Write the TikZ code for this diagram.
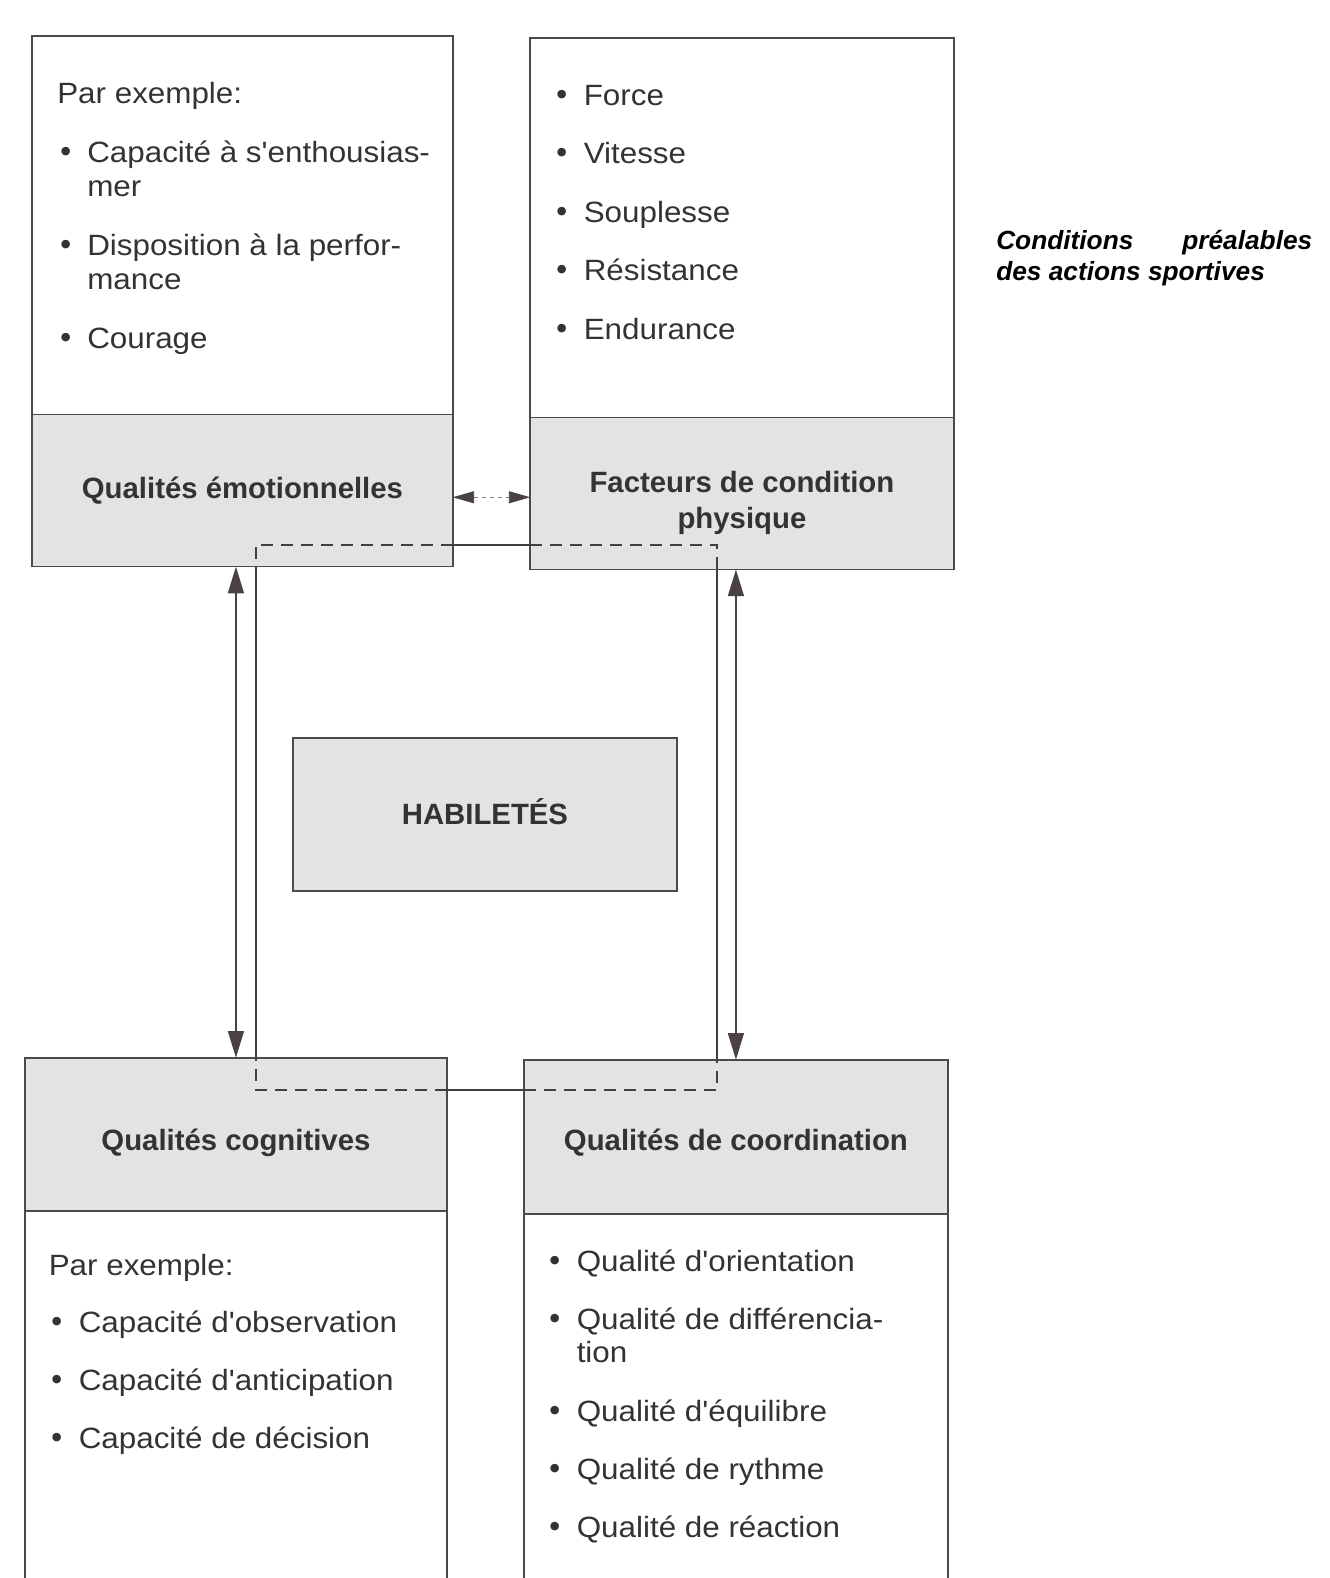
\documentclass[tikz,border=0pt]{standalone}
\usepackage{fontspec}
\setmainfont{Liberation Sans}
\newfontfamily\bodyfont{Liberation Sans}[FakeStretch=1.07]
\newfontfamily\dotfont{DejaVu Sans}
\usepackage{tikz}
\usetikzlibrary{arrows.meta, positioning, calc}

\definecolor{inkgrey}{HTML}{333333}
\definecolor{bandgrey}{HTML}{E3E3E3}
\definecolor{framegrey}{HTML}{4A4A4A}
\definecolor{tipgrey}{HTML}{4A4242}

\newcommand{\bul}{{\dotfont\textbullet}}
\newcommand{\itemgap}{18.8pt}

\begin{document}
\begin{tikzpicture}[x=0.75pt, y=-0.75pt, node distance=0pt, >={Triangle[length=20pt, width=12pt]},
    panel/.style = {draw=framegrey, line width=1.3pt, fill=white, rectangle, inner sep=0pt, outer sep=0pt, anchor=north west},
    band/.style = {panel, fill=bandgrey},
    title/.style = {inner sep=0pt, text=inkgrey, align=center, font=\bfseries\fontsize{22}{27}\selectfont},
    listtext/.style = {anchor=base west, inner sep=0pt, text=inkgrey, font=\bodyfont\fontsize{22}{25}\selectfont},
    linkline/.style = {draw=black!75, line width=1.5pt},
    linkdash/.style = {linkline, dash pattern=on 9pt off 6pt},
    bothtips/.style = {draw=tipgrey, line width=1.1pt, <->, fill=tipgrey}]
    \clip (0,0) rectangle (1329,1578);

    % Top boxes
    \node [panel, minimum width=315.4pt, minimum height=283.8pt] (emoTop) at (32.2,36.2) {};
    \node [band, below=0pt of emoTop, minimum width=315.4pt, minimum height=114pt] (emoBand) {};
    \node [panel, minimum width=317.6pt, minimum height=284.5pt] (physTop) at (530.2,38.2) {};
    \node [band, below=0pt of physTop, minimum width=317.6pt, minimum height=114pt] (physBand) {};

    % Centre
    \node [band, minimum width=288.2pt, minimum height=114.7pt] (habil) at (292.8,737.7) {};

    % Bottom boxes
    \node [band, minimum width=316.1pt, minimum height=114.8pt] (cogBand) at (25.2,1057.7) {};
    \node [panel, below=0pt of cogBand, minimum width=316.1pt, minimum height=300pt] (cogBottom) {};
    \node [band, minimum width=317.6pt, minimum height=115.5pt] (coordBand) at (524.2,1059.7) {};
    \node [panel, below=0pt of coordBand, minimum width=317.6pt, minimum height=300pt] (coordBottom) {};

    % Titles
    \node [title] (emoTitle) at (emoBand.center) {Qualités émotionnelles};
    \node [title, yshift=-6.75pt] (physTitle) at (physBand.center) {Facteurs de condition\\physique};
    \node [title, yshift=2.25pt] (habilTitle) at (habil.center) {HABILETÉS};
    \node [title, yshift=-6.75pt] (cogTitle) at (cogBand.center) {Qualités cognitives};
    \node [title, yshift=-4.5pt] (coordTitle) at (coordBand.center) {Qualités de coordination};

    % Lists
    \node [listtext] (emoList) at (57,103) {\begin{tabular}[t]{@{}p{22.5pt}@{}l@{}}
        \multicolumn{2}{@{}l@{}}{Par exemple:}\\[19.8pt]
        \bul & Capacité à s'enthousias-\\
             & mer\\[19.8pt]
        \bul & Disposition à la perfor-\\
             & mance\\[19.8pt]
        \bul & Courage
      \end{tabular}};
    \node [listtext] (physList) at (553.5,105.5) {\begin{tabular}[t]{@{}p{22.5pt}@{}l@{}}
        \bul & Force\\[\itemgap]
        \bul & Vitesse\\[\itemgap]
        \bul & Souplesse\\[\itemgap]
        \bul & Résistance\\[\itemgap]
        \bul & Endurance
      \end{tabular}};
    \node [listtext] (cogList) at (48.5,1275) {\begin{tabular}[t]{@{}p{22.5pt}@{}l@{}}
        \multicolumn{2}{@{}l@{}}{Par exemple:}\\[17.8pt]
        \bul & Capacité d'observation\\[\itemgap]
        \bul & Capacité d'anticipation\\[\itemgap]
        \bul & Capacité de décision
      \end{tabular}};
    \node [listtext] (coordList) at (546.5,1271) {\begin{tabular}[t]{@{}p{22.5pt}@{}l@{}}
        \bul & Qualité d'orientation\\[\itemgap]
        \bul & Qualité de différencia-\\
             & tion\\[\itemgap]
        \bul & Qualité d'équilibre\\[\itemgap]
        \bul & Qualité de rythme\\[\itemgap]
        \bul & Qualité de réaction
      \end{tabular}};

    % Caption
    \node [anchor=base west, inner sep=0pt, text width=237pt, align=justify,
      font=\bfseries\itshape\fontsize{19.7}{23.3}\selectfont] (caption) at (996,249)
      {Conditions préalables\linebreak des actions sportives};

    % Loop round the centre
    \coordinate (loopNW) at (255.5,544.5);
    \coordinate (loopSE) at (717.3,1089.9);
    \draw [linkdash] (emoBand.east |- loopNW) -- (loopNW) -- (loopNW |- emoBand.south);
    \draw [linkdash] (physBand.west |- loopNW) -- (loopNW -| loopSE) -- (loopSE |- physBand.south);
    \draw [linkdash] (cogBand.east |- loopSE) -- (loopNW |- loopSE) -- (loopNW |- cogBand.north);
    \draw [linkdash] (coordBand.west |- loopSE) -- (loopSE) -- (loopSE |- coordBand.north);
    \draw [linkline] (emoBand.east |- loopNW) -- (physBand.west |- loopNW);
    \draw [linkline] (cogBand.east |- loopSE) -- (coordBand.west |- loopSE);
    \draw [linkline] (loopNW |- emoBand.south) -- (loopNW |- cogBand.north);
    \draw [linkline] (loopSE |- physBand.south) -- (loopSE |- coordBand.north);

    % Arrows
    \draw [bothtips] (cogBand.north |- emoBand.south) -- (cogBand.north);
    \draw [bothtips] (coordBand.north |- physBand.south) -- (coordBand.north);
    \draw [draw=gray, dash pattern=on 3pt off 3pt, line width=0.6pt,
      {Triangle[length=16pt, width=9pt, color=tipgrey]}-{Triangle[length=16pt, width=9pt, color=tipgrey]}]
      ([yshift=-5pt]emoBand.east) -- ([yshift=-5pt]emoBand.east -| physBand.west);
\end{tikzpicture}
\end{document}
